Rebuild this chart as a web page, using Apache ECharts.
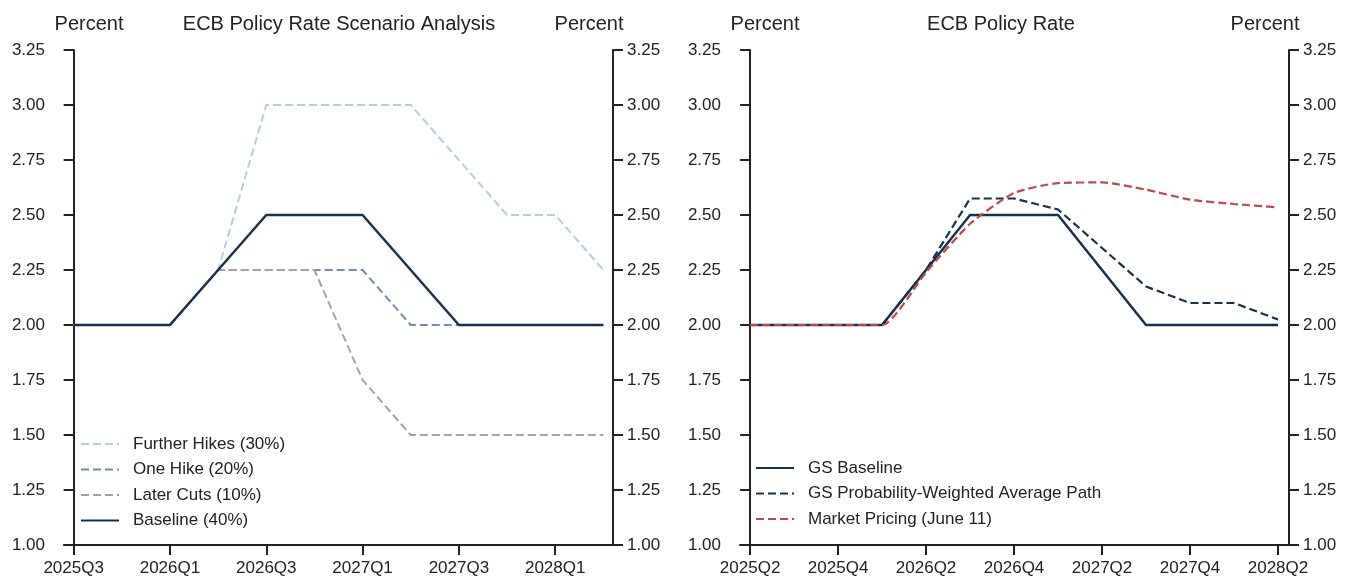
<!DOCTYPE html>
<html>
<head>
<meta charset="utf-8">
<script src="https://cdn.jsdelivr.net/npm/echarts@6/dist/echarts.min.js"></script>
<style>
  html, body { margin: 0; padding: 0; background: #fff; }
  #main { width: 1350px; height: 585px; }
</style>
</head>
<body>
<div id="main"></div>
<script>
// left panel: quarters 2025Q3 .. 2028Q2
const leftQuarters = ['2025Q3', '2025Q4', '2026Q1', '2026Q2', '2026Q3', '2026Q4', '2027Q1', '2027Q2', '2027Q3', '2027Q4', '2028Q1', '2028Q2'];
const furtherHikes = [2.00, 2.00, 2.00, 2.25, 3.00, 3.00, 3.00, 3.00, 2.75, 2.50, 2.50, 2.25];
const oneHike      = [2.00, 2.00, 2.00, 2.25, 2.25, 2.25, 2.25, 2.00, 2.00, 2.00, 2.00, 2.00];
const laterCuts    = [2.00, 2.00, 2.00, 2.25, 2.25, 2.25, 1.75, 1.50, 1.50, 1.50, 1.50, 1.50];
const baseline     = [2.00, 2.00, 2.00, 2.25, 2.50, 2.50, 2.50, 2.25, 2.00, 2.00, 2.00, 2.00];

// right panel: quarters 2025Q2 .. 2028Q2
const rightQuarters = ['2025Q2', '2025Q3', '2025Q4', '2026Q1', '2026Q2', '2026Q3', '2026Q4', '2027Q1', '2027Q2', '2027Q3', '2027Q4', '2028Q1', '2028Q2'];
const gsBaseline    = [2.00, 2.00, 2.00, 2.00, 2.25, 2.50, 2.50, 2.50, 2.25, 2.00, 2.00, 2.00, 2.00];
const gsWeighted    = [2.00, 2.00, 2.00, 2.00, 2.25, 2.575, 2.575, 2.525, 2.35, 2.175, 2.10, 2.10, 2.025];
const marketPricing = [2.00, 2.00, 2.00, 2.00, 2.24, 2.46, 2.60, 2.645, 2.648, 2.615, 2.57, 2.55, 2.535];

const leftTicks = [0, 2, 4, 6, 8, 10];
const rightTicks = [0, 2, 4, 6, 8, 10, 12];

const txt = '#222';
const font = 'Liberation Sans, Arial, sans-serif';
const navy = '#15324f';

const chart = echarts.init(document.getElementById('main'));

function pairs(arr) {
  return arr.map((v, i) => [i, v]);
}

function xAxisFor(gridIndex, cats, ticks, min, max) {
  return {
    type: 'value', gridIndex: gridIndex, min: min, max: max,
    axisLine: { show: true, onZero: false, lineStyle: { color: txt, width: 2 } },
    axisTick: { show: true, length: 10, customValues: ticks, lineStyle: { color: txt, width: 2 } },
    axisLabel: {
      customValues: ticks, color: txt, fontFamily: font, fontSize: 17, margin: 15,
      formatter: v => cats[Math.round(v)] || ''
    },
    splitLine: { show: false }
  };
}

function yAxisFor(gridIndex, pos) {
  return {
    type: 'value', gridIndex: gridIndex, position: pos, min: 1, max: 3.25, interval: 0.25,
    axisLine: { show: true, lineStyle: { color: txt, width: 2 } },
    axisTick: { show: true, length: 10, lineStyle: { color: txt, width: 2 } },
    axisLabel: { color: txt, fontFamily: font, fontSize: 17, margin: pos === 'left' ? 19 : 14, formatter: v => v.toFixed(2) },
    splitLine: { show: false }
  };
}

function lineSeries(name, data, xi, yi, color, width, dashed, smooth) {
  return {
    name: name, type: 'line', xAxisIndex: xi, yAxisIndex: yi,
    data: pairs(data), symbol: 'none', smooth: smooth || false,
    lineStyle: { color: color, width: width, type: dashed ? [8, 4] : 'solid' },
    itemStyle: { color: color }
  };
}

function titleAt(text, x) {
  return { text: text, left: x, top: 9, textAlign: 'center', textStyle: { color: txt, fontSize: 20, fontWeight: 'normal', fontFamily: font } };
}

const legendText = { color: txt, fontSize: 17, fontFamily: font, padding: [0, 0, 0, 9], lineHeight: 20 };

const option = {
  backgroundColor: '#fff',
  animation: false,
  textStyle: { fontFamily: font },
  title: [
    titleAt('Percent', 84),
    titleAt('ECB Policy Rate Scenario Analysis', 334),
    titleAt('Percent', 584),
    titleAt('Percent', 760),
    titleAt('ECB Policy Rate', 996),
    titleAt('Percent', 1260)
  ],
  grid: [
    { left: 64, right: 737, top: 50, bottom: 40 },
    { left: 740, right: 61, top: 50, bottom: 40 }
  ],
  xAxis: [
    xAxisFor(0, leftQuarters, leftTicks, -0.2, 11.2),
    xAxisFor(1, rightQuarters, rightTicks, -0.23, 12.25)
  ],
  yAxis: [
    yAxisFor(0, 'left'), yAxisFor(0, 'right'),
    yAxisFor(1, 'left'), yAxisFor(1, 'right')
  ],
  legend: [
    {
      orient: 'vertical', left: 75, top: 429, itemWidth: 38, itemHeight: 14, itemGap: 5.5,
      itemStyle: { opacity: 0 },
      textStyle: legendText,
      data: ['Further Hikes (30%)', 'One Hike (20%)', 'Later Cuts (10%)', 'Baseline (40%)']
    },
    {
      orient: 'vertical', left: 750, top: 453, itemWidth: 38, itemHeight: 14, itemGap: 5.5,
      itemStyle: { opacity: 0 },
      textStyle: legendText,
      data: ['GS Baseline', 'GS Probability-Weighted Average Path', 'Market Pricing (June 11)']
    }
  ],
  series: [
    lineSeries('Further Hikes (30%)', furtherHikes, 0, 0, '#afd0e7', 2, true),
    lineSeries('One Hike (20%)', oneHike, 0, 0, '#6d8db6', 2, true),
    lineSeries('Later Cuts (10%)', laterCuts, 0, 0, '#a3a3a3', 2, true),
    lineSeries('Baseline (40%)', baseline, 0, 0, navy, 2.5, false),
    lineSeries('GS Baseline', gsBaseline, 1, 2, navy, 2.5, false),
    lineSeries('GS Probability-Weighted Average Path', gsWeighted, 1, 2, navy, 2.2, true),
    lineSeries('Market Pricing (June 11)', marketPricing, 1, 2, '#c2474d', 2.2, true, 0.2)
  ]
};

chart.setOption(option);
</script>
</body>
</html>
